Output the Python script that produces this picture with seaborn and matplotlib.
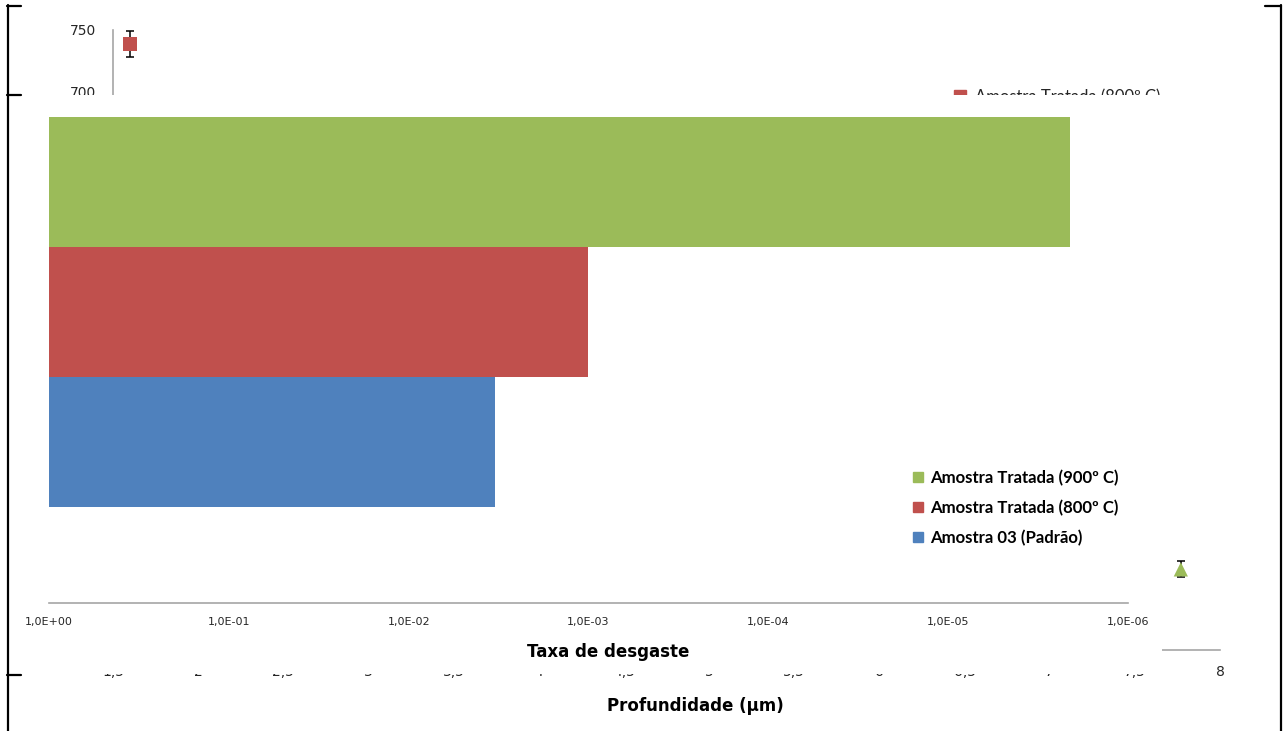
import matplotlib
matplotlib.use("Agg")
import matplotlib.pyplot as plt
from matplotlib.lines import Line2D
from matplotlib.ticker import NullLocator
import numpy as np
import pandas as pd
import seaborn as sns

# --- wear rate per sample (horizontal bars, log scale) ---
amostras = ["Amostra 03 (Padrão)", "Amostra Tratada (800º C)", "Amostra Tratada (900º C)"]
taxa_desgaste = [3.3e-3, 1.0e-3, 2.1e-6]
cores = ["#4F81BD", "#C0504D", "#9BBB59"]
taxa_ticks = [1e0, 1e-1, 1e-2, 1e-3, 1e-4, 1e-5, 1e-6]
taxa_labels = ["1,0E+00", "1,0E-01", "1,0E-02", "1,0E-03", "1,0E-04", "1,0E-05", "1,0E-06"]

# --- hardness profile (points with error bars) ---
perfil_amostra = ["Amostra Tratada (800º C)", "Amostra Tratada (900º C)"]
profundidade = [1.6, 7.77]
dureza = [738.5, 315.0]
dureza_erro = [10.5, 6.5]
prof_ticks = [1.5, 2, 2.5, 3, 3.5, 4, 4.5, 5, 5.5, 6, 6.5, 7, 7.5, 8]
prof_labels = ["1,5", "2", "2,5", "3", "3,5", "4", "4,5", "5", "5,5", "6", "6,5", "7", "7,5", "8"]
dureza_ticks = [250, 300, 350, 400, 450, 500, 550, 600, 650, 700, 750]

sns.set_theme(style="white")
plt.rcParams["font.family"] = ["DejaVu Sans"]

W, H = 1286, 731
fig = plt.figure(figsize=(W / 100, H / 100), dpi=100)
fig.patch.set_facecolor("white")


def px_rect(x0, y0, x1, y1):
    return [x0 / W, 1 - y1 / H, (x1 - x0) / W, (y1 - y0) / H]


AXIS_GRAY = "#A6A6A6"
TEXT_DARK = "#262626"

# ---------------- hardness profile (behind) ----------------
ax_bg = fig.add_axes(px_rect(113, 30, 1220, 650))
ax_bg.set_facecolor("white")
perfil = pd.DataFrame({"Amostra": perfil_amostra, "Profundidade": profundidade,
                       "Dureza": dureza, "Erro": dureza_erro})
ax_bg.errorbar(perfil["Profundidade"], perfil["Dureza"], yerr=perfil["Erro"], fmt="none",
               ecolor="black", elinewidth=1.1, capsize=3, capthick=1.1, zorder=2, clip_on=False)
sns.scatterplot(data=perfil, x="Profundidade", y="Dureza", hue="Amostra", style="Amostra",
                palette={perfil_amostra[0]: "#C0504D", perfil_amostra[1]: "#9BBB59"},
                markers={perfil_amostra[0]: "s", perfil_amostra[1]: "^"},
                s=105, linewidth=0, legend=False, ax=ax_bg, zorder=3, clip_on=False)
ax_bg.set_xlim(1.5, 8)
ax_bg.set_ylim(250, 750)
ax_bg.set_xticks(prof_ticks, prof_labels)
ax_bg.set_yticks(dureza_ticks)
for side in ("top", "right"):
    ax_bg.spines[side].set_visible(False)
for side in ("left", "bottom"):
    ax_bg.spines[side].set_color(AXIS_GRAY)
    ax_bg.spines[side].set_linewidth(1.2)
ax_bg.tick_params(axis="both", direction="out", length=4, width=1.2, color=AXIS_GRAY,
                  labelsize=10, labelcolor=TEXT_DARK)
ax_bg.tick_params(axis="x", pad=6.5)
ax_bg.tick_params(axis="y", pad=8)
ax_bg.set_xlabel("Profundidade (µm)", fontsize=12, fontweight="bold", color="black")
ax_bg.set_ylabel("")
ax_bg.xaxis.set_label_coords((695 - 113) / 1107, -(706 - 650) / 620)
ax_bg.xaxis.label.set_verticalalignment("center")
bg_handles = [Line2D([], [], color="#C0504D", marker="s", linestyle="none", markersize=8),
              Line2D([], [], color="#9BBB59", marker="^", linestyle="none", markersize=8),
              Line2D([], [], color="#4F81BD", marker="D", linestyle="none", markersize=7)]
ax_bg.legend(bg_handles, ["Amostra Tratada (800º C)", "Amostra Tratada (900º C)", "Amostra 03 (Padrão)"],
             loc="upper left", bbox_to_anchor=(952 / W, 1 - 89 / H), bbox_transform=fig.transFigure,
             frameon=False, borderpad=0, borderaxespad=0, handlelength=1.0, handletextpad=0.4,
             prop={"family": "Lato", "size": 12}, labelcolor=TEXT_DARK)

# ---------------- white panel of the wear-rate chart ----------------
ax_cover = fig.add_axes(px_rect(20, 95, 1162, 674))
ax_cover.set_facecolor("white")
ax_cover.set_xticks([])
ax_cover.set_yticks([])
for sp in ax_cover.spines.values():
    sp.set_visible(False)

# ---------------- wear rate bars (front) ----------------
ax = fig.add_axes(px_rect(49, 97, 1128, 603))
ax.set_facecolor("none")
ax.set_xscale("log")
ax.set_xlim(1e0, 1e-6)
posicoes = np.arange(len(amostras))
ax.barh(posicoes, np.array(taxa_desgaste) - 1.0, left=1.0, height=1.0, color=cores,
        edgecolor="none", linewidth=0)
ax.set_ylim(-1.238, 2.654)
ax.set_yticks([])
ax.set_xticks(taxa_ticks, taxa_labels)
ax.xaxis.set_minor_locator(NullLocator())
for side in ("top", "right", "left"):
    ax.spines[side].set_visible(False)
ax.spines["bottom"].set_color(AXIS_GRAY)
ax.spines["bottom"].set_linewidth(1.2)
ax.tick_params(axis="x", direction="out", length=4, width=1.2, color=AXIS_GRAY, pad=6,
               labelsize=8, labelcolor=TEXT_DARK)
ax.set_xlabel("Taxa de desgaste", fontsize=12, fontweight="bold", color="black")
ax.xaxis.set_label_coords((608 - 49) / 1079, -(652 - 603) / 506)
ax.xaxis.label.set_verticalalignment("center")

leg_handles = [Line2D([], [], color=c, marker="s", linestyle="none", markersize=6.5)
               for c in reversed(cores)]
ax.legend(leg_handles, list(reversed(amostras)), loc="upper left",
          bbox_to_anchor=(912 / W, 1 - 470 / H), bbox_transform=fig.transFigure,
          frameon=False, borderpad=0, borderaxespad=0, handlelength=0.75, handletextpad=0.3,
          labelspacing=0.8, prop={"family": "Lato", "size": 12.1, "weight": "bold"},
          labelcolor="black")

# ---------------- page frame ----------------
frame_segments = [
    ((7.5, 7.5), (5, 731)),
    ((1280.5, 1280.5), (5, 731)),
    ((7, 21), (5.5, 5.5)),
    ((1265, 1281), (5.5, 5.5)),
    ((7, 21), (95, 95)),
    ((7, 21), (675, 675)),
]
for xs, ys in frame_segments:
    fig.add_artist(Line2D([x / W for x in xs], [1 - y / H for y in ys],
                          transform=fig.transFigure, color="black", linewidth=1.6, zorder=10))

fig.savefig("out.png", dpi=100)
